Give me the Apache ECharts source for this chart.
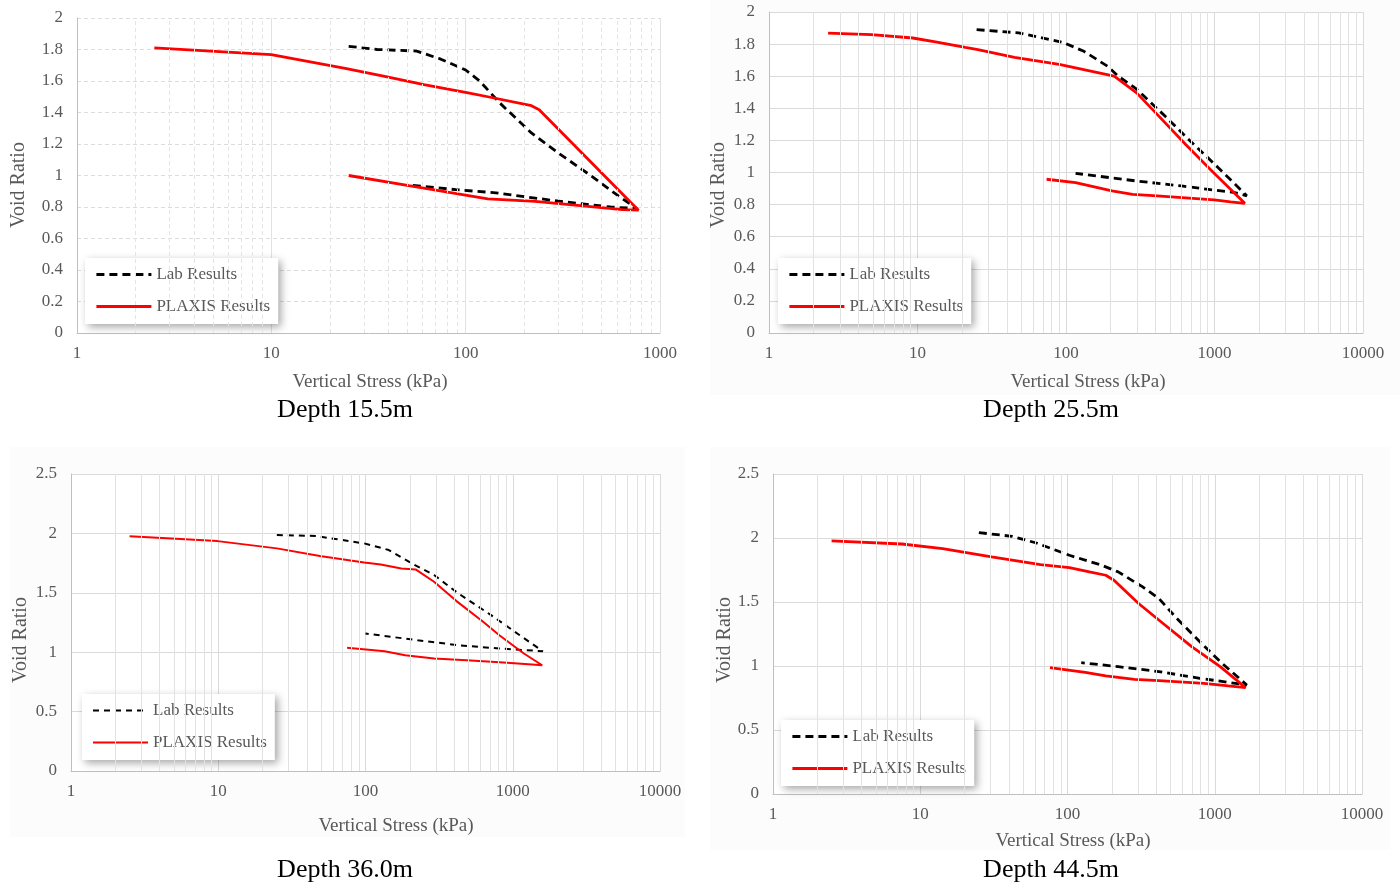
<!DOCTYPE html>
<html>
<head>
<meta charset="utf-8">
<script src="https://cdn.jsdelivr.net/npm/echarts@6/dist/echarts.min.js"></script>
<style>
html,body{margin:0;padding:0;background:#fff;}
#chart{width:1400px;height:884px;}
</style>
</head>
<body>
<div id="chart"></div>
<script>
// ---------- DATA ----------
const captions = ['Depth 15.5m', 'Depth 25.5m', 'Depth 36.0m', 'Depth 44.5m'];
const seriesNames = ['Lab Results', 'PLAXIS Results'];
const xTitle = 'Vertical Stress (kPa)';
const yTitle = 'Void Ratio';
const xMax = [1000, 10000, 10000, 10000];
const yMax = [2, 2, 2.5, 2.5];
const yStep = [0.2, 0.2, 0.5, 0.5];

// Depth 15.5m
const lab1X = [25, 35, 56, 74, 100, 118, 150, 218, 302, 440, 611, 760, 556, 288, 143, 89, 51];
const lab1Y = [1.82, 1.80, 1.79, 1.74, 1.67, 1.60, 1.46, 1.27, 1.14, 1.00, 0.87, 0.79, 0.80, 0.84, 0.89, 0.91, 0.94];
const plx1X = [2.5, 10, 24, 40, 61, 103, 130, 218, 239, 775, 640, 228, 130, 51, 25];
const plx1Y = [1.81, 1.767, 1.68, 1.625, 1.577, 1.524, 1.50, 1.443, 1.418, 0.78, 0.783, 0.836, 0.851, 0.935, 1.00];

// Depth 25.5m
const lab2X = [25, 48, 96, 132, 192, 225, 299, 466, 681, 1060, 1650, 1365, 600, 299, 116];
const lab2Y = [1.89, 1.87, 1.81, 1.755, 1.66, 1.60, 1.52, 1.35, 1.20, 1.03, 0.855, 0.875, 0.916, 0.947, 0.995];
const plx2X = [2.5, 4.9, 9.3, 13.5, 21, 25.5, 45, 90, 116, 211, 299, 411, 640, 934, 1600, 1282, 995, 411, 281, 204, 116, 74];
const plx2Y = [1.869, 1.859, 1.838, 1.813, 1.78, 1.766, 1.718, 1.673, 1.652, 1.60, 1.496, 1.362, 1.175, 1.02, 0.808, 0.817, 0.829, 0.854, 0.864, 0.885, 0.937, 0.958];

// Depth 36.0m
const lab3X = [25, 46, 98, 144, 212, 292, 428, 713, 1116, 1600, 811, 428, 226, 100];
const lab3Y = [1.986, 1.978, 1.916, 1.86, 1.74, 1.65, 1.494, 1.312, 1.143, 1.008, 1.031, 1.059, 1.101, 1.157];
const plx3X = [2.5, 9.9, 25, 49, 98, 127, 175, 219, 292, 415, 629, 811, 1190, 1585, 1352, 865, 486, 292, 186, 135, 75];
const plx3Y = [1.975, 1.935, 1.874, 1.809, 1.756, 1.739, 1.705, 1.697, 1.593, 1.43, 1.256, 1.143, 0.989, 0.89, 0.896, 0.913, 0.933, 0.947, 0.975, 1.008, 1.037];

// Depth 44.5m
const lab4X = [25, 42, 61.5, 103, 171, 221, 324, 418, 540, 792, 1089, 1650, 792, 418, 221, 124];
const lab4Y = [2.042, 2.013, 1.961, 1.865, 1.787, 1.735, 1.618, 1.527, 1.384, 1.19, 1.034, 0.852, 0.904, 0.956, 0.995, 1.026];
const plx4X = [2.5, 7.5, 14.2, 30.5, 65.6, 103, 141, 182, 207, 304, 446, 697, 1089, 1620, 1238, 844, 418, 285, 182, 132, 76];
const plx4Y = [1.977, 1.953, 1.917, 1.852, 1.792, 1.769, 1.735, 1.709, 1.67, 1.488, 1.332, 1.151, 0.995, 0.831, 0.844, 0.865, 0.886, 0.896, 0.922, 0.951, 0.987];

// ---------- LAYOUT ----------
const labX = [lab1X, lab2X, lab3X, lab4X];
const labY = [lab1Y, lab2Y, lab3Y, lab4Y];
const plxX = [plx1X, plx2X, plx3X, plx4X];
const plxY = [plx1Y, plx2Y, plx3Y, plx4Y];

const grids = [
  {left: 77, top: 18, width: 583, height: 315},
  {left: 769, top: 12, width: 594, height: 321},
  {left: 71, top: 474, width: 589, height: 297},
  {left: 773, top: 474, width: 589, height: 320}
];
const legendPos = [
  {left: 85, top: 258}, {left: 778, top: 258}, {left: 82, top: 694}, {left: 781, top: 720}
];
const xTitlePos = [[370, 382], [1088, 382], [396, 826], [1073, 841]];
const yTitlePos = [[19, 185], [719, 185], [21, 640], [725, 640]];
const captionPos = [[345, 410], [1051, 410], [345, 870], [1051, 870]];
const bgRects = [null, [710, 0, 690, 395], [10, 447, 675, 390], [710, 447, 680, 403]];

const FONT = 'Liberation Serif, Times New Roman, serif';
const LABEL = '#595959';
const GRIDC = '#dadada';

function zip(xs, ys) { return xs.map((x, i) => [x, ys[i]]); }
function minorGrid(max) {
  const out = [];
  for (let d = 1; d < max; d *= 10) for (let k = 2; k <= 9; k++) out.push({xAxis: k * d});
  return out;
}

const option = {
  backgroundColor: '#ffffff',
  animation: false,
  grid: grids.map(g => Object.assign({show: true, backgroundColor: '#ffffff', borderWidth: 0, containLabel: false}, g)),
  xAxis: grids.map((g, i) => ({
    type: 'log', logBase: 10, gridIndex: i, min: 1, max: xMax[i],
    axisLine: {show: true, lineStyle: {color: '#bfbfbf', width: 1}},
    axisTick: {show: false},
    axisLabel: {color: LABEL, fontFamily: FONT, fontSize: 17, margin: 12, formatter: v => String(v)},
    splitLine: {show: true, lineStyle: {color: i === 0 ? '#e2e2e2' : GRIDC, width: 1, type: 'solid'}}
  })),
  yAxis: grids.map((g, i) => ({
    type: 'value', gridIndex: i, min: 0, max: yMax[i], interval: yStep[i],
    axisLine: {show: true, lineStyle: {color: '#bfbfbf', width: 1}},
    axisTick: {show: false},
    axisLabel: {color: LABEL, fontFamily: FONT, fontSize: 17, margin: 14},
    splitLine: {show: true, lineStyle: {color: i === 0 ? '#dcdcdc' : GRIDC, width: 1, type: i === 0 ? [4, 3] : 'solid'}}
  })),
  legend: legendPos.map((p, i) => ({
    left: p.left, top: p.top, orient: 'vertical',
    data: seriesNames.map((n, k) => ({
      name: n,
      itemStyle: {color: 'rgba(0,0,0,0)', borderWidth: 0, opacity: 0},
      lineStyle: k === 0
        ? {color: '#000', width: i === 2 ? 2 : 2.8, type: i === 2 ? [6, 5] : [8, 5], opacity: 1}
        : {color: '#ff0000', width: i === 2 ? 2 : 2.8, type: 'solid', opacity: 1}
    })),
    itemWidth: 55, itemHeight: 14, itemGap: 15,
    padding: [8, 8, 9, 10],
    backgroundColor: '#ffffff',
    borderWidth: 0,
    shadowBlur: 8, shadowColor: 'rgba(0,0,0,0.35)', shadowOffsetX: 3, shadowOffsetY: 3,
    textStyle: {color: LABEL, fontFamily: FONT, fontSize: 17},
    selectedMode: false
  })),
  series: [],
  graphic: []
};

for (let i = 0; i < 4; i++) {
  // minor vertical grid lines (axis decoration)
  option.series.push({
    type: 'line', xAxisIndex: i, yAxisIndex: i, data: [], z: 1, silent: true,
    markLine: {
      silent: true, symbol: ['none', 'none'], label: {show: false},
      lineStyle: {color: i === 0 ? '#e4e4e4' : '#e2e2e2', width: 1, type: i === 0 ? [4, 3] : 'solid'},
      emphasis: {disabled: true},
      data: minorGrid(xMax[i])
    }
  });
  option.series.push({
    name: seriesNames[0], type: 'line', xAxisIndex: i, yAxisIndex: i, z: 3,
    showSymbol: false, symbol: 'none',
    data: zip(labX[i], labY[i]),
    lineStyle: {color: '#000000', width: i === 2 ? 2 : 2.8, type: i === 2 ? [6, 5] : [8, 5]},
    itemStyle: {color: '#000000'}
  });
  option.series.push({
    name: seriesNames[1], type: 'line', xAxisIndex: i, yAxisIndex: i, z: 4,
    showSymbol: false, symbol: 'none',
    data: zip(plxX[i], plxY[i]),
    lineStyle: {color: '#ff0000', width: i === 2 ? 2 : 2.8, type: 'solid'},
    itemStyle: {color: '#ff0000'}
  });

  const r = bgRects[i];
  if (r) option.graphic.push({type: 'rect', z: -10, silent: true, shape: {x: r[0], y: r[1], width: r[2], height: r[3]}, style: {fill: '#fcfcfc'}});
  option.graphic.push({type: 'text', x: xTitlePos[i][0], y: xTitlePos[i][1], silent: true,
    style: {text: xTitle, align: 'center', verticalAlign: 'middle', fill: LABEL, font: '19px ' + FONT}});
  option.graphic.push({type: 'text', x: yTitlePos[i][0], y: yTitlePos[i][1], rotation: Math.PI / 2, silent: true,
    style: {text: yTitle, align: 'center', verticalAlign: 'middle', fill: LABEL, font: '20px ' + FONT}});
  option.graphic.push({type: 'text', x: captionPos[i][0], y: captionPos[i][1], silent: true,
    style: {text: captions[i], align: 'center', verticalAlign: 'middle', fill: '#000000', font: '26px ' + FONT}});
}

const chart = echarts.init(document.getElementById('chart'), null, {renderer: 'canvas'});
chart.setOption(option);
</script>
</body>
</html>
